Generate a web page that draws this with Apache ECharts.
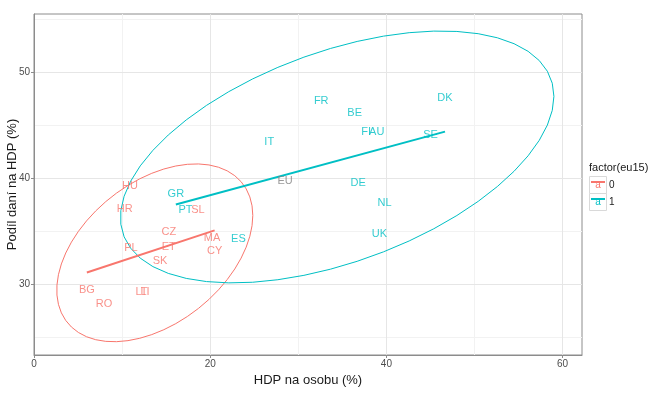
<!DOCTYPE html>
<html>
<head>
<meta charset="utf-8">
<script src="https://cdn.jsdelivr.net/npm/echarts@6/dist/echarts.min.js"></script>
<style>
  html, body { margin: 0; padding: 0; background: #fff; }
  #chart { width: 660px; height: 398px; }
</style>
</head>
<body>
<div id="chart"></div>
<script>
// skupina eu15 = 0
const codes0 = ['HU', 'HR', 'SL', 'CZ', 'MA', 'ET', 'PL', 'CY', 'SK', 'BG', 'LT', 'LI', 'RO'];
const hdp0 = [10.9, 10.3, 18.6, 15.3, 20.2, 15.3, 11.0, 20.5, 14.3, 6.0, 12.2, 12.6, 7.95];
const dane0 = [39.2, 37.1, 37.0, 34.9, 34.3, 33.5, 33.4, 33.1, 32.2, 29.4, 29.25, 29.25, 28.1];

// skupina eu15 = 1
const codes1 = ['DK', 'FR', 'BE', 'FI', 'AU', 'SE', 'IT', 'DE', 'NL', 'UK', 'GR', 'PT', 'ES'];
const hdp1 = [46.65, 32.6, 36.4, 37.7, 38.9, 45.0, 26.7, 36.8, 39.8, 39.2, 16.1, 17.2, 23.2];
const dane1 = [47.55, 47.3, 46.1, 44.3, 44.3, 44.1, 43.4, 39.5, 37.6, 34.7, 38.5, 37.0, 34.2];

// EU prumer
const codesEU = ['EU'];
const hdpEU = [28.5];
const daneEU = [39.7];

const xTicks = [0, 20, 40, 60];
const xMinor = [10, 30, 50];
const yTicks = [30, 40, 50];
const yMinor = [25, 35, 45, 55];

const RED = '#F8766D';
const CYAN = '#00BFC4';
const FONT = 'Liberation Sans, Arial, sans-serif';

function points(codes, xs, ys) {
  return codes.map((c, i) => [xs[i], ys[i], c]);
}

function mean(a) {
  return a.reduce((s, v) => s + v, 0) / a.length;
}

// lm fit
function fitLine(xs, ys) {
  const mx = mean(xs), my = mean(ys);
  let sxx = 0, sxy = 0;
  xs.forEach((x, i) => { sxx += (x - mx) * (x - mx); sxy += (x - mx) * (ys[i] - my); });
  const b = sxy / sxx;
  const lo = Math.min(...xs), hi = Math.max(...xs);
  return [[lo, my + b * (lo - mx)], [hi, my + b * (hi - mx)]];
}

// robust t covariance (jako MASS::cov.trob, nu = 5)
function covTrob(xs, ys) {
  const n = xs.length, nu = 5, p = 2;
  let lx = mean(xs), ly = mean(ys);
  let w = xs.map(() => 1);
  let dx, dy;
  for (let iter = 0; iter < 25; iter++) {
    const w0 = w.slice();
    dx = xs.map(x => x - lx);
    dy = ys.map(y => y - ly);
    const sw = w.reduce((s, v) => s + v, 0);
    let a = 0, b = 0, c = 0;
    for (let i = 0; i < n; i++) {
      a += w[i] * dx[i] * dx[i] / sw;
      b += w[i] * dx[i] * dy[i] / sw;
      c += w[i] * dy[i] * dy[i] / sw;
    }
    const det = a * c - b * b;
    w = dx.map((u, i) => {
      const q = (c * u * u - 2 * b * u * dy[i] + a * dy[i] * dy[i]) / det;
      return (nu + p) / (nu + q);
    });
    const s2 = w.reduce((s, v) => s + v, 0);
    lx = xs.reduce((s, x, i) => s + w[i] * x, 0) / s2;
    ly = ys.reduce((s, y, i) => s + w[i] * y, 0) / s2;
    if (w.every((v, i) => Math.abs(v - w0[i]) < 0.01)) break;
  }
  let a = 0, b = 0, c = 0;
  for (let i = 0; i < n; i++) {
    a += w[i] * dx[i] * dx[i] / n;
    b += w[i] * dx[i] * dy[i] / n;
    c += w[i] * dy[i] * dy[i] / n;
  }
  return { lx, ly, a, b, c };
}

// stat_ellipse, type "t", level 0.95
function ellipse(xs, ys) {
  const t = covTrob(xs, ys);
  const d = xs.length - 1;
  const qf = (d / 2) * (Math.pow(0.05, -2 / d) - 1);
  const r = Math.sqrt(2 * qf);
  const l11 = Math.sqrt(t.a), l12 = t.b / l11, l22 = Math.sqrt(t.c - l12 * l12);
  const out = [];
  const seg = 51;
  for (let k = 0; k <= seg; k++) {
    const ang = k * 2 * Math.PI / seg;
    const u = Math.cos(ang), v = Math.sin(ang);
    out.push([t.lx + r * u * l11, t.ly + r * (u * l12 + v * l22)]);
  }
  return out;
}

function labelSeries(data, color) {
  return {
    type: 'scatter',
    data: data,
    symbolSize: 0,
    z: 5,
    label: {
      show: true,
      position: 'inside',
      formatter: p => p.data[2],
      color: color,
      fontFamily: FONT,
      fontSize: 11
    }
  };
}

function curve(data, color, width, z) {
  return {
    type: 'line',
    data: data,
    showSymbol: false,
    symbol: 'none',
    smooth: false,
    z: z,
    lineStyle: { color: color, width: width },
    silent: true
  };
}

const gridLines = [];
xMinor.forEach(v => gridLines.push({ xAxis: v, lineStyle: { color: '#f2f2f2', width: 1, type: 'solid' } }));
yMinor.forEach(v => gridLines.push({ yAxis: v, lineStyle: { color: '#f2f2f2', width: 1, type: 'solid' } }));
xTicks.forEach(v => gridLines.push({ xAxis: v, lineStyle: { color: '#e6e6e6', width: 1, type: 'solid' } }));
yTicks.forEach(v => gridLines.push({ yAxis: v, lineStyle: { color: '#e6e6e6', width: 1, type: 'solid' } }));

const chart = echarts.init(document.getElementById('chart'));

chart.setOption({
  animation: false,
  grid: {
    left: 34, right: 78, top: 14, bottom: 43,
    containLabel: false, outerBoundsMode: 'none',
    show: true, borderColor: '#8c8c8c', borderWidth: 1, backgroundColor: '#fff'
  },
  xAxis: {
    type: 'value',
    min: 0, max: 62.2,
    name: 'HDP na osobu (%)',
    nameLocation: 'middle',
    nameGap: 19,
    nameMoveOverlap: false,
    nameTextStyle: { fontFamily: FONT, fontSize: 13, color: '#1a1a1a' },
    axisLine: { show: true, lineStyle: { color: '#8c8c8c' } },
    axisTick: { show: true, customValues: xTicks, length: 3, lineStyle: { color: '#8c8c8c' } },
    axisLabel: { customValues: xTicks, fontFamily: FONT, fontSize: 10, color: '#4d4d4d', margin: 4 },
    minorTick: { show: false },
    splitLine: { show: false }
  },
  yAxis: {
    type: 'value',
    min: 23.3, max: 55.47,
    name: 'Podíl daní na HDP (%)',
    nameLocation: 'middle',
    nameGap: 15,
    nameMoveOverlap: false,
    nameTextStyle: { fontFamily: FONT, fontSize: 13, color: '#1a1a1a' },
    axisLine: { show: true, lineStyle: { color: '#8c8c8c' } },
    axisTick: { show: true, customValues: yTicks, length: 3, lineStyle: { color: '#8c8c8c' } },
    axisLabel: { customValues: yTicks, fontFamily: FONT, fontSize: 10, color: '#4d4d4d', margin: 4 },
    minorTick: { show: false },
    splitLine: { show: false }
  },
  series: [
    {
      type: 'scatter',
      data: [],
      z: 0,
      markLine: {
        z: 0,
        silent: true,
        symbol: 'none',
        label: { show: false },
        animation: false,
        data: gridLines
      }
    },
    curve(ellipse(hdp0, dane0), RED, 1, 2),
    curve(ellipse(hdp1, dane1), CYAN, 1, 2),
    curve(fitLine(hdp0, dane0), RED, 2, 3),
    curve(fitLine(hdp1, dane1), CYAN, 2, 3),
    labelSeries(points(codes0, hdp0, dane0), RED),
    labelSeries(points(codes1, hdp1, dane1), CYAN),
    labelSeries(points(codesEU, hdpEU, daneEU), '#7f7f7f')
  ],
  graphic: [
    { type: 'text', left: 589, top: 162, style: { text: 'factor(eu15)', font: '11px ' + FONT, fill: '#1a1a1a' } },
    { type: 'rect', shape: { x: 589.5, y: 176.5, width: 17, height: 17 }, style: { fill: '#fff', stroke: '#d9d9d9', lineWidth: 1 } },
    { type: 'rect', shape: { x: 589.5, y: 193.5, width: 17, height: 17 }, style: { fill: '#fff', stroke: '#d9d9d9', lineWidth: 1 } },
    { type: 'line', shape: { x1: 591, y1: 182, x2: 605, y2: 182 }, style: { stroke: RED, lineWidth: 2 } },
    { type: 'line', shape: { x1: 591, y1: 199, x2: 605, y2: 199 }, style: { stroke: CYAN, lineWidth: 2 } },
    { type: 'text', x: 598, y: 185, style: { text: 'a', font: '10px ' + FONT, fill: RED, align: 'center', verticalAlign: 'middle' } },
    { type: 'text', x: 598, y: 202, style: { text: 'a', font: '10px ' + FONT, fill: CYAN, align: 'center', verticalAlign: 'middle' } },
    { type: 'text', x: 609, y: 185, style: { text: '0', font: '10px ' + FONT, fill: '#1a1a1a', verticalAlign: 'middle' } },
    { type: 'text', x: 609, y: 202, style: { text: '1', font: '10px ' + FONT, fill: '#1a1a1a', verticalAlign: 'middle' } }
  ]
});
</script>
</body>
</html>
